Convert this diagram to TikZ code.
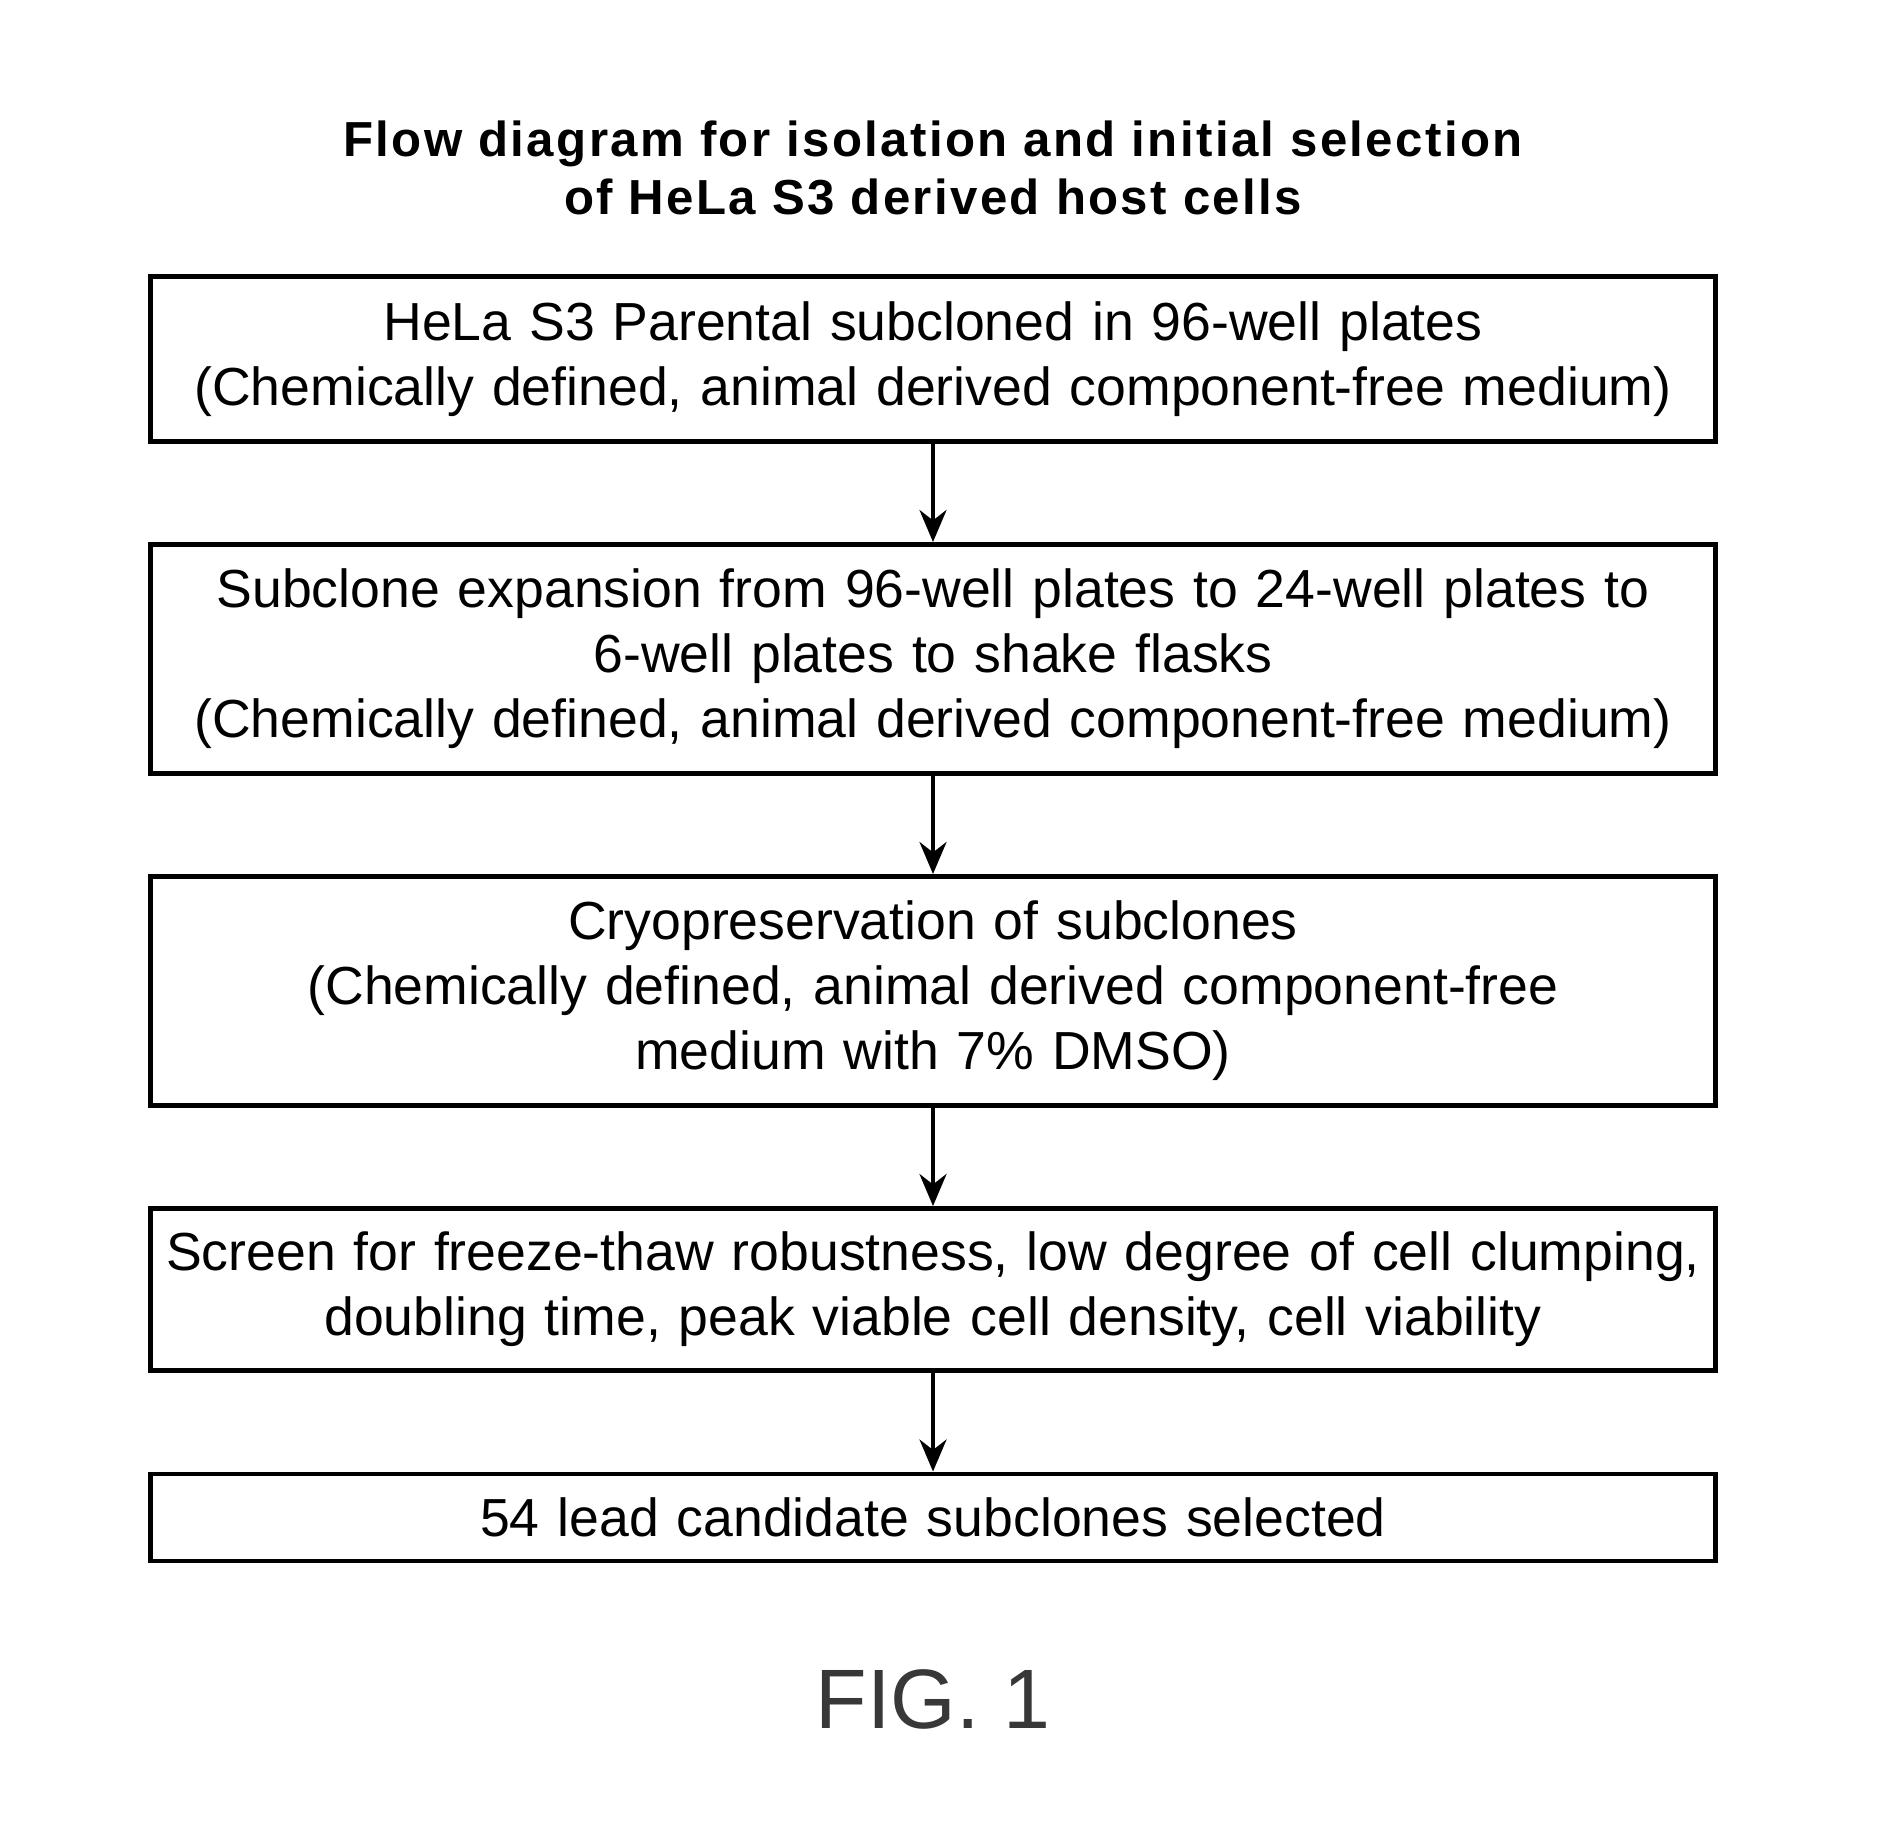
\documentclass[tikz,border=0pt]{standalone}
\usepackage{fontspec}
\setmainfont{Liberation Sans}
\usetikzlibrary{positioning, arrows.meta}

\begin{document}
\begin{tikzpicture}[
    x=0.02cm, y=-0.02cm,
    node distance=1.97cm,
    every node/.style={font=\fontsize{30.5}{37}\selectfont},
    stepbox/.style={rectangle, draw=black, line width=2.6pt, minimum width=31.3cm, text width=31.2cm, align=center, inner sep=0pt},
    arrow/.style={-{Stealth[length=0.64cm, width=0.54cm]}, line width=2.2pt}
]

\useasboundingbox (0,0) rectangle (1889,1831);

% Title
\node[font=\fontsize{28}{33}\selectfont\bfseries\addfontfeatures{LetterSpace=4.8}, align=center] (title) at (933,168) {Flow diagram for isolation and initial selection\\of HeLa S3 derived host cells};

% Steps
\node[stepbox, minimum height=3.29cm] (plated) at (933,359) {HeLa S3 Parental subcloned in 96-well plates\\(Chemically defined, animal derived component-free medium)};
\node[stepbox, minimum height=4.58cm, below=of plated] (expand) {Subclone expansion from 96-well plates to 24-well plates to\\6-well plates to shake flasks\\(Chemically defined, animal derived component-free medium)};
\node[stepbox, minimum height=4.58cm, below=of expand] (cryo) {Cryopreservation of subclones\\(Chemically defined, animal derived component-free\\medium with 7\% DMSO)};
\node[stepbox, minimum height=3.25cm, below=of cryo] (screen) {Screen for freeze-thaw robustness, low degree of cell clumping,\\doubling time, peak viable cell density, cell viability};
\node[stepbox, minimum height=1.74cm, below=of screen] (lead) {54 lead candidate subclones selected};

% Arrows
\draw[arrow] (plated) -- (expand);
\draw[arrow] (expand) -- (cryo);
\draw[arrow] (cryo) -- (screen);
\draw[arrow] (screen) -- (lead);

% Caption
\node[font=\fontsize{48}{48}\selectfont, text=black!78] (fig) at (933,1699) {FIG. 1};

\end{tikzpicture}
\end{document}
